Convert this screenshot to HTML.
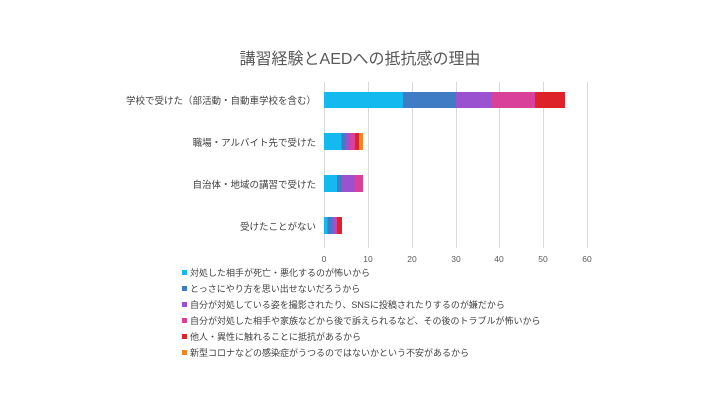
<!DOCTYPE html>
<html><head><meta charset="utf-8"><style>
body{margin:0;background:#fff;width:720px;height:405px;overflow:hidden;font-family:"Liberation Sans","Noto Sans CJK JP",sans-serif}
</style></head><body>
<svg width="720" height="405" xmlns="http://www.w3.org/2000/svg" font-family="Liberation Sans, Noto Sans CJK JP, sans-serif">
<text x="360" y="64" text-anchor="middle" font-size="16" fill="#595959">講習経験とAEDへの抵抗感の理由</text>
<g stroke="#d9d9d9" stroke-width="1">
<line x1="324.5" y1="82" x2="324.5" y2="248"/><line x1="368.5" y1="82" x2="368.5" y2="248"/><line x1="412.5" y1="82" x2="412.5" y2="248"/><line x1="456.5" y1="82" x2="456.5" y2="248"/><line x1="499.5" y1="82" x2="499.5" y2="248"/><line x1="543.5" y1="82" x2="543.5" y2="248"/><line x1="587.5" y1="82" x2="587.5" y2="248"/>
</g>
<g font-size="8.5" fill="#595959" text-anchor="middle">
<text x="324" y="262">0</text><text x="368" y="262">10</text><text x="412" y="262">20</text><text x="456" y="262">30</text><text x="499" y="262">40</text><text x="543" y="262">50</text><text x="587" y="262">60</text>
</g>
<g font-size="9.5" fill="#404040" text-anchor="end">
<text x="316" y="104">学校で受けた（部活動・自動車学校を含む）</text>
<text x="316" y="146">職場・アルバイト先で受けた</text>
<text x="316" y="188">自治体・地域の講習で受けた</text>
<text x="316" y="230">受けたことがない</text>
</g>
<!-- row1 -->
<rect x="324" y="92" width="79" height="16" fill="#14b9ef"/>
<rect x="403" y="92" width="53" height="16" fill="#3f7cc6"/>
<rect x="456" y="92" width="35" height="16" fill="#9b52d0"/>
<rect x="491" y="92" width="44" height="16" fill="#d8409a"/>
<rect x="535" y="92" width="30" height="16" fill="#de222a"/>
<!-- row2 -->
<rect x="324" y="133" width="17.5" height="17" fill="#14b9ef"/>
<rect x="341.5" y="133" width="4" height="17" fill="#3f7cc6"/>
<rect x="345.5" y="133" width="4.5" height="17" fill="#9b52d0"/>
<rect x="350" y="133" width="5" height="17" fill="#d8409a"/>
<rect x="355" y="133" width="4" height="17" fill="#de222a"/>
<rect x="359" y="133" width="4" height="17" fill="#f0861e"/>
<!-- row3 -->
<rect x="324" y="175" width="13" height="17" fill="#14b9ef"/>
<rect x="337" y="175" width="4.5" height="17" fill="#3f7cc6"/>
<rect x="341.5" y="175" width="13" height="17" fill="#9b52d0"/>
<rect x="354.5" y="175" width="8.5" height="17" fill="#d8409a"/>
<!-- row4 -->
<rect x="324" y="217" width="3.5" height="17" fill="#14b9ef"/>
<rect x="327.5" y="217" width="5" height="17" fill="#3f7cc6"/>
<rect x="332.5" y="217" width="2.5" height="17" fill="#9b52d0"/>
<rect x="335" y="217" width="2" height="17" fill="#d8409a"/>
<rect x="337" y="217" width="5" height="17" fill="#de222a"/>
<g font-size="9" fill="#404040">
<rect x="182" y="270" width="5" height="5" fill="#14b9ef"/><text x="190" y="276">対処した相手が死亡・悪化するのが怖いから</text>
<rect x="182" y="286" width="5" height="5" fill="#3f7cc6"/><text x="190" y="292">とっさにやり方を思い出せないだろうから</text>
<rect x="182" y="302" width="5" height="5" fill="#9b52d0"/><text x="190" y="308">自分が対処している姿を撮影されたり、SNSに投稿されたりするのが嫌だから</text>
<rect x="182" y="318" width="5" height="5" fill="#d8409a"/><text x="190" y="324">自分が対処した相手や家族などから後で訴えられるなど、その後のトラブルが怖いから</text>
<rect x="182" y="334" width="5" height="5" fill="#de222a"/><text x="190" y="340">他人・異性に触れることに抵抗があるから</text>
<rect x="182" y="350" width="5" height="5" fill="#f0861e"/><text x="190" y="356">新型コロナなどの感染症がうつるのではないかという不安があるから</text>
</g>
</svg>
</body></html>
